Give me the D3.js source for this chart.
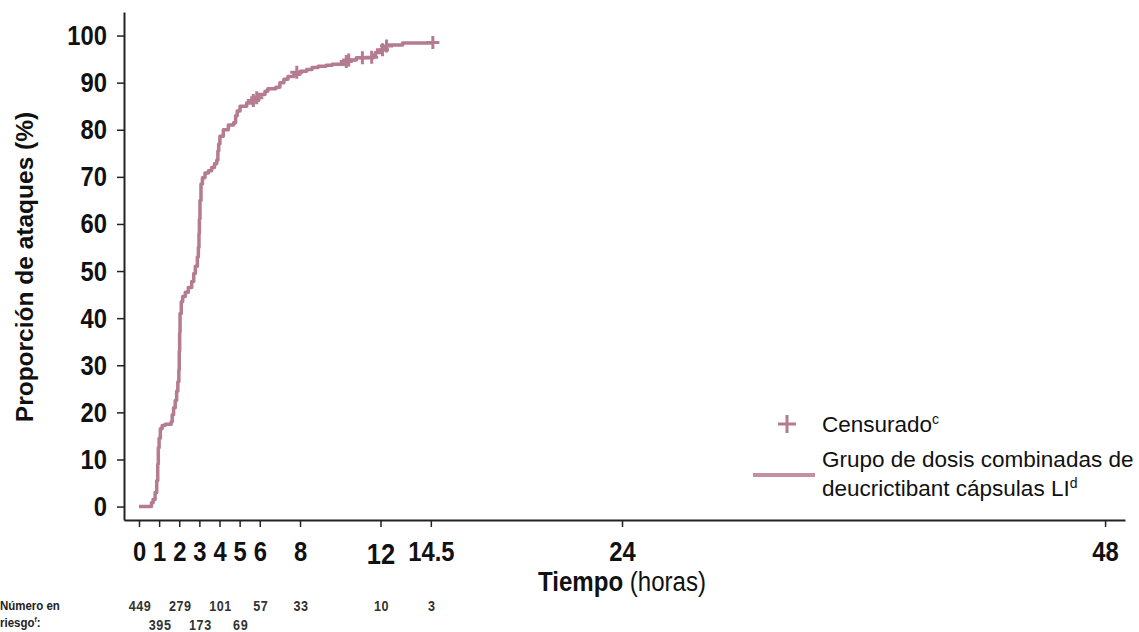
<!DOCTYPE html>
<html>
<head>
<meta charset="utf-8">
<script src="https://cdn.jsdelivr.net/npm/d3@7"></script>
<style>
  body { margin: 0; background: #fff; }
  svg { display: block; }
  text { font-family: "Liberation Sans", Arial, sans-serif; }
</style>
</head>
<body>
<div id="chart"></div>
<script>
  // tick labels
  var xTicks = [0, 1, 2, 3, 4, 5, 6, 8, 12, 14.5, 24, 48];
  var yTicks = [0, 10, 20, 30, 40, 50, 60, 70, 80, 90, 100];

  // Kaplan-Meier curve (hours, cumulative % of attacks)
  var kmTime = [0, 0.62, 0.7, 0.8, 0.88, 0.93, 0.96, 1.0, 1.06, 1.15, 1.3, 1.6, 1.65, 1.72, 1.8, 1.87,
    1.93, 1.98, 2.0, 2.02, 2.04, 2.1, 2.17, 2.3, 2.45, 2.62, 2.72, 2.8, 2.9, 2.95, 2.98, 3.0, 3.03,
    3.08, 3.15, 3.28, 3.45, 3.61, 3.75, 3.86, 3.92, 3.96, 4.02, 4.19, 4.44, 4.7, 4.8, 4.88, 5.02,
    5.35, 5.7, 5.95, 6.26, 6.4, 6.8, 7.0, 7.2, 7.4, 7.7, 8.0, 8.33, 8.6, 8.9, 9.3, 9.6, 10.2, 10.4,
    10.8, 11.65, 11.75, 12.0, 12.2, 12.3, 13.1, 14.6];
  var kmPct = [0, 0.8, 1.5, 3, 5.5, 9, 12.5, 14.5, 16.5, 17.2, 17.5, 18, 19.5, 21, 22.5, 24.5,
    26.5, 29, 33, 37, 41, 43.5, 44.6, 45.5, 46.5, 47.8, 49.5, 51, 53, 55, 58, 61, 65,
    68.5, 69.8, 70.8, 71.3, 72, 72.8, 73.5, 75.5, 77, 78.6, 80, 81, 81.5, 83, 84, 85,
    85.7, 86.3, 87.5, 88.2, 88.7, 89, 90, 90.7, 91.3, 91.8, 92.4, 92.8, 93.2, 93.5, 93.7, 93.9, 94.3, 94.8,
    95.3, 95.8, 96.4, 97, 97.5, 98, 98.4, 98.5];

  // censored observations
  var censorTime = [5.68, 5.85, 7.84, 10.3, 10.42, 11.1, 11.56, 12.1, 12.3, 14.6];
  var censorPct = [86.2, 86.8, 92.2, 94.5, 94.8, 95.3, 95.4, 97, 97.8, 98.5];

  // number at risk
  var riskTime = [0, 1, 2, 3, 4, 5, 6, 8, 12, 14.5];
  var riskCount = [449, 395, 279, 173, 101, 69, 57, 33, 10, 3];

  var curveColor = "#b57b90";
  var narrow = 0.85; // horizontal squeeze to mimic a narrow face

  var svg = d3.select("#chart").append("svg")
    .attr("width", 1139)
    .attr("height", 632);

  var x = d3.scaleLinear().domain([-0.745, 48.99]).range([124, 1125]);
  var y = d3.scaleLinear().domain([-2.85, 105]).range([520, 12]);

  // X axis
  var xAxis = svg.append("g")
    .attr("transform", "translate(0,520)")
    .call(d3.axisBottom(x).tickValues(xTicks).tickSize(7).tickSizeOuter(0)
      .tickFormat(function (d) { return String(d); }));
  xAxis.select(".domain").attr("stroke", "#222").attr("stroke-width", 2);
  xAxis.selectAll(".tick line").attr("stroke", "#222").attr("stroke-width", 1.5);
  xAxis.selectAll(".tick text")
    .attr("y", 21).attr("dy", "0.71em")
    .attr("fill", "#111")
    .style("font-size", function (d) { return d === 12 ? "30px" : "28px"; })
    .style("font-weight", "bold")
    .attr("transform", function (d) {
      return (d === 12 ? "translate(0,2) " : "") + "scale(" + narrow + ",1)";
    });

  // Y axis
  var yAxis = svg.append("g")
    .attr("transform", "translate(124,0)")
    .call(d3.axisLeft(y).tickValues(yTicks).tickSize(7).tickSizeOuter(0));
  yAxis.select(".domain").attr("stroke", "#222").attr("stroke-width", 2);
  yAxis.selectAll(".tick line").attr("stroke", "#222").attr("stroke-width", 1.5);
  yAxis.selectAll(".tick text")
    .attr("x", -17 / narrow)
    .attr("transform", "scale(" + narrow + ",1)")
    .attr("fill", "#111")
    .style("font-size", "28px")
    .style("font-weight", "bold");

  // axis titles
  svg.append("text")
    .attr("transform", "translate(33,267) rotate(-90)")
    .attr("text-anchor", "middle")
    .style("font-size", "24.5px")
    .style("font-weight", "bold")
    .attr("fill", "#111")
    .text("Proporción de ataques (%)");

  var xTitle = svg.append("text")
    .attr("transform", "translate(622,591) scale(0.86,1)")
    .attr("text-anchor", "middle")
    .style("font-size", "28px")
    .attr("fill", "#111");
  xTitle.append("tspan").style("font-weight", "bold").text("Tiempo");
  xTitle.append("tspan").text(" (horas)");

  // KM curve
  var line = d3.line()
    .x(function (d) { return x(d[0]); })
    .y(function (d) { return y(d[1]); })
    .curve(d3.curveStepAfter);

  svg.append("path")
    .datum(kmTime.map(function (t, i) { return [t, kmPct[i]]; }))
    .attr("fill", "none")
    .attr("stroke", curveColor)
    .attr("stroke-width", 3.5)
    .attr("stroke-linejoin", "round")
    .attr("d", line);

  // censor marks
  function plus(cx, cy, r) {
    return "M" + (cx - r) + "," + cy + "H" + (cx + r) + "M" + cx + "," + (cy - r) + "V" + (cy + r);
  }
  svg.selectAll(".censor")
    .data(censorTime.map(function (t, i) { return [t, censorPct[i]]; }))
    .enter().append("path")
    .attr("class", "censor")
    .attr("d", function (d) { return plus(x(d[0]), y(d[1]), 6.5); })
    .attr("stroke", curveColor)
    .attr("stroke-width", 3);

  // legend
  svg.append("path")
    .attr("d", plus(787, 424, 9))
    .attr("stroke", curveColor)
    .attr("stroke-width", 3);
  var l1 = svg.append("text")
    .attr("x", 822).attr("y", 432)
    .style("font-size", "22.5px")
    .attr("fill", "#111");
  l1.append("tspan").text("Censurado");
  l1.append("tspan").attr("dy", -8).style("font-size", "14px").text("c");

  svg.append("line")
    .attr("x1", 753).attr("x2", 815)
    .attr("y1", 475).attr("y2", 475)
    .attr("stroke", "#c48fa1")
    .attr("stroke-width", 4);
  svg.append("text")
    .attr("x", 822).attr("y", 467)
    .style("font-size", "22.5px")
    .attr("fill", "#111")
    .text("Grupo de dosis combinadas de");
  var l3 = svg.append("text")
    .attr("x", 822).attr("y", 496)
    .style("font-size", "22.5px")
    .attr("fill", "#111");
  l3.append("tspan").text("deucrictibant cápsulas LI");
  l3.append("tspan").attr("dy", -8).style("font-size", "14px").text("d");

  // number at risk
  var riskLabel = svg.append("text")
    .attr("transform", "scale(" + narrow + ",1)")
    .style("font-size", "13.5px")
    .style("font-weight", "bold")
    .attr("fill", "#222");
  riskLabel.append("tspan").attr("x", 0).attr("y", 610).text("Número en");
  riskLabel.append("tspan").attr("x", 0).attr("y", 627).text("riesgo");
  riskLabel.append("tspan").attr("dy", -5).style("font-size", "8px").text("f");
  riskLabel.append("tspan").attr("dy", 5).text(":");

  svg.selectAll(".risk")
    .data(riskTime.map(function (t, i) { return [t, riskCount[i]]; }))
    .enter().append("text")
    .attr("class", "risk")
    .attr("transform", function (d) {
      return "translate(" + (x(d[0]) + 1) + "," + (d[0] % 2 === 1 ? 630 : 611) + ") scale(0.9,1)";
    })
    .attr("text-anchor", "middle")
    .style("font-size", "14px")
    .style("font-weight", "bold")
    .style("letter-spacing", "0.6px")
    .attr("fill", "#333")
    .text(function (d) { return d[1]; });
</script>
</body>
</html>
